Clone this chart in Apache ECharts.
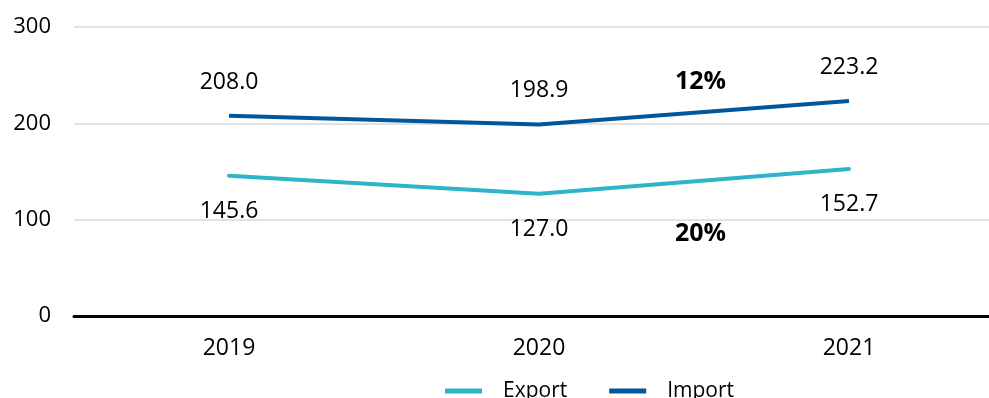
<!DOCTYPE html>
<html><head><meta charset="utf-8">
<script src="https://cdn.jsdelivr.net/npm/echarts@6/dist/echarts.min.js"></script>
<style>html,body{margin:0;padding:0;background:#fff}#c{width:989px;height:398px}</style>
</head><body><div id="c"></div>
<script>
var categories = ['2019', '2020', '2021'];
var exportValues = [145.6, 127.0, 152.7];
var importValues = [208.0, 198.9, 223.2];
var yTicks = [0, 100, 200, 300];
var growthLabels = ['12%', '20%'];

var FONT = '"Open Sans", "Noto Sans", sans-serif';
var chart = echarts.init(document.getElementById('c'));
chart.setOption({
  animation: false,
  backgroundColor: '#fff',
  grid: { left: 74, width: 930, top: 27, bottom: 82, containLabel: false, outerBoundsMode: 'none' },
  legend: {
    data: ['Export', 'Import'],
    top: 375, left: 440,
    icon: 'rect', itemWidth: 37, itemHeight: 5, itemGap: 42,
    textStyle: { fontFamily: FONT, fontSize: 21, color: '#000', padding: [0, 0, 0, 16], lineHeight: 22 }
  },
  xAxis: {
    type: 'category', data: categories, boundaryGap: true,
    axisLine: { lineStyle: { color: '#000', width: 3 } },
    axisTick: { show: false },
    axisLabel: { fontFamily: FONT, fontSize: 23, color: '#000', margin: 21 }
  },
  yAxis: {
    type: 'value', min: yTicks[0], max: yTicks[yTicks.length - 1], interval: 100,
    axisLine: { show: false }, axisTick: { show: false },
    axisLabel: { fontFamily: FONT, fontSize: 22, color: '#000', margin: 23 },
    splitLine: { lineStyle: { color: '#d9d9d9', width: 1.5 } }
  },
  series: [
    {
      name: 'Export', type: 'line', data: exportValues, symbol: 'circle', symbolSize: 0,
      lineStyle: { color: '#2cb5c8', width: 4, cap: 'round' }, itemStyle: { color: '#2cb5c8' },
      label: { show: true, position: 'bottom', distance: 24, fontFamily: FONT, fontSize: 23, color: '#000',
        formatter: function (p) { return p.value.toFixed(1); } }
    },
    {
      name: 'Import', type: 'line', data: importValues, symbol: 'circle', symbolSize: 0,
      lineStyle: { color: '#00579c', width: 4 }, itemStyle: { color: '#00579c' },
      label: { show: true, position: 'top', distance: 22, fontFamily: FONT, fontSize: 23, color: '#000',
        formatter: function (p) { return p.value.toFixed(1); } }
    }
  ],
  graphic: [
    { type: 'text', left: 675, top: 69, style: { text: growthLabels[0], fontFamily: FONT, fontSize: 25, fontWeight: 'bold', fill: '#000' } },
    { type: 'text', left: 675, top: 221, style: { text: growthLabels[1], fontFamily: FONT, fontSize: 25, fontWeight: 'bold', fill: '#000' } }
  ]
});
</script></body></html>
